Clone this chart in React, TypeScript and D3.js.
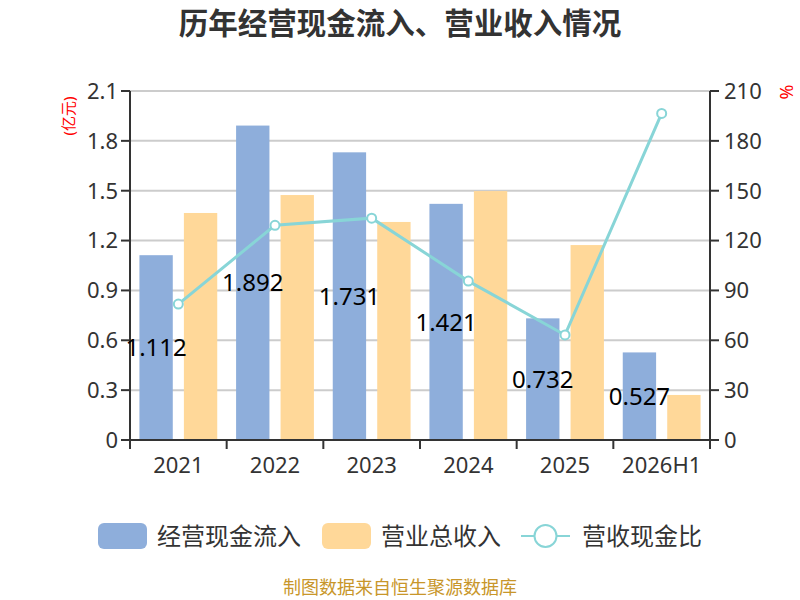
import { useMemo } from "react"
import { scaleBand, scaleLinear, line as d3Line } from "d3"

const categories = ["2021", "2022", "2023", "2024", "2025", "2026H1"]
const cashInflow = [1.112, 1.892, 1.731, 1.421, 0.732, 0.527]
const revenue = [1.366, 1.474, 1.312, 1.498, 1.173, 0.271]
const cashRatio = [81.8, 129.2, 133.5, 95.6, 63.2, 196.5]
const leftTicks = [0, 0.3, 0.6, 0.9, 1.2, 1.5, 1.8, 2.1]
const rightTicks = [0, 30, 60, 90, 120, 150, 180, 210]

const blue = "#8eaedb"
const orange = "#ffd899"
const teal = "#88d5d7"
const axisColor = "#333333"
const font = "'Noto Sans', 'Noto Sans CJK SC', sans-serif"

export default function App() {
  const width = 800
  const height = 600
  const margin = { top: 91, right: 90, bottom: 160, left: 130 }
  const innerWidth = width - margin.left - margin.right
  const innerHeight = height - margin.top - margin.bottom

  const x = useMemo(() => scaleBand<string>().domain(categories).range([0, innerWidth]), [innerWidth])
  const yLeft = useMemo(() => scaleLinear().domain([0, 2.1]).range([innerHeight, 0]), [innerHeight])
  const yRight = useMemo(() => scaleLinear().domain([0, 210]).range([innerHeight, 0]), [innerHeight])

  const bw = x.bandwidth()
  const barWidth = bw * 0.345
  const barGap = bw * 0.115
  const barOffset = (bw - barWidth * 2 - barGap) / 2

  const linePath = d3Line<number>()
    .x((_, i) => (x(categories[i]) ?? 0) + bw / 2)
    .y((d) => yRight(d))(cashRatio) ?? ""

  return (
    <svg width={width} height={height} style={{ position: "absolute", left: 0, top: 0, fontFamily: font }}>
      <rect width={width} height={height} fill="#ffffff" />
      <text x={400} y={34} textAnchor="middle" fontSize="29.5" fontWeight="bold" fill="#333">
        历年经营现金流入、营业收入情况
      </text>

      <g transform={`translate(${margin.left},${margin.top})`}>
        {leftTicks.map((t) => (
          <g key={t}>
            {t > 0 && <line x1={0} x2={innerWidth} y1={yLeft(t)} y2={yLeft(t)} stroke="#cccccc" strokeWidth={2} />}
            <line x1={-9} x2={0} y1={yLeft(t)} y2={yLeft(t)} stroke={axisColor} strokeWidth={2} />
            <text x={-12} y={yLeft(t)} dy="0.36em" textAnchor="end" fontSize="22" fill={axisColor}>{t === 0 ? "0" : t.toFixed(1)}</text>
          </g>
        ))}
        {rightTicks.map((t) => (
          <g key={t}>
            <line x1={innerWidth} x2={innerWidth + 9} y1={yRight(t)} y2={yRight(t)} stroke={axisColor} strokeWidth={2} />
            <text x={innerWidth + 14} y={yRight(t)} dy="0.36em" textAnchor="start" fontSize="22" fill={axisColor}>{t}</text>
          </g>
        ))}

        {categories.map((c, i) => {
          const x0 = x(c) ?? 0
          return (
            <g key={c}>
              <rect x={x0 + barOffset} y={yLeft(cashInflow[i])} width={barWidth} height={innerHeight - yLeft(cashInflow[i])} fill={blue} />
              <rect x={x0 + barOffset + barWidth + barGap} y={yLeft(revenue[i])} width={barWidth} height={innerHeight - yLeft(revenue[i])} fill={orange} />
            </g>
          )
        })}

        <line x1={0} x2={0} y1={0} y2={innerHeight} stroke={axisColor} strokeWidth={2} />
        <line x1={innerWidth} x2={innerWidth} y1={0} y2={innerHeight} stroke={axisColor} strokeWidth={2} />
        <line x1={0} x2={innerWidth} y1={innerHeight} y2={innerHeight} stroke={axisColor} strokeWidth={2} />
        {categories.concat([""]).map((c, i) => {
          const xx = i * bw
          return <line key={`t${i}`} x1={xx} x2={xx} y1={innerHeight} y2={innerHeight + 9} stroke={axisColor} strokeWidth={2} />
        })}
        {categories.map((c) => (
          <text key={`l${c}`} x={(x(c) ?? 0) + bw / 2} y={innerHeight + 33} textAnchor="middle" fontSize="22" fill={axisColor}>{c}</text>
        ))}

        <path d={linePath} fill="none" stroke={teal} strokeWidth={3} />
        {cashRatio.map((v, i) => (
          <circle key={`p${i}`} cx={(x(categories[i]) ?? 0) + bw / 2} cy={yRight(v)} r={4.5} fill="#ffffff" stroke={teal} strokeWidth={2} />
        ))}

        {cashInflow.map((v, i) => (
          <text
            key={`v${i}`}
            x={(x(categories[i]) ?? 0) + barOffset + barWidth / 2}
            y={(yLeft(v) + innerHeight) / 2}
            dy="0.36em"
            textAnchor="middle"
            fontSize="24"
            fill="#000000"
          >
            {v.toFixed(3)}
          </text>
        ))}
      </g>

      <text transform="translate(74,116) rotate(-90)" textAnchor="middle" fontSize="15" fill="#ff0000">(亿元)</text>
      <text transform="translate(793,92) rotate(-90)" textAnchor="middle" fontSize="18" fill="#ff0000">%</text>

      <g transform="translate(0,536)">
        <rect x={98} y={-13} width={49} height={26} rx={6} fill={blue} />
        <text x={157} y={0} dy="0.36em" fontSize="24" fill="#333">经营现金流入</text>
        <rect x={322} y={-13} width={49} height={26} rx={6} fill={orange} />
        <text x={381} y={0} dy="0.36em" fontSize="24" fill="#333">营业总收入</text>
        <line x1={521} x2={570} y1={0} y2={0} stroke={teal} strokeWidth={2} />
        <circle cx={545.5} cy={0} r={11} fill="#ffffff" stroke={teal} strokeWidth={2} />
        <text x={582} y={0} dy="0.36em" fontSize="24" fill="#333">营收现金比</text>
      </g>

      <text x={400} y={594} textAnchor="middle" fontSize="18" fill="#c8962a">制图数据来自恒生聚源数据库</text>
    </svg>
  )
}
